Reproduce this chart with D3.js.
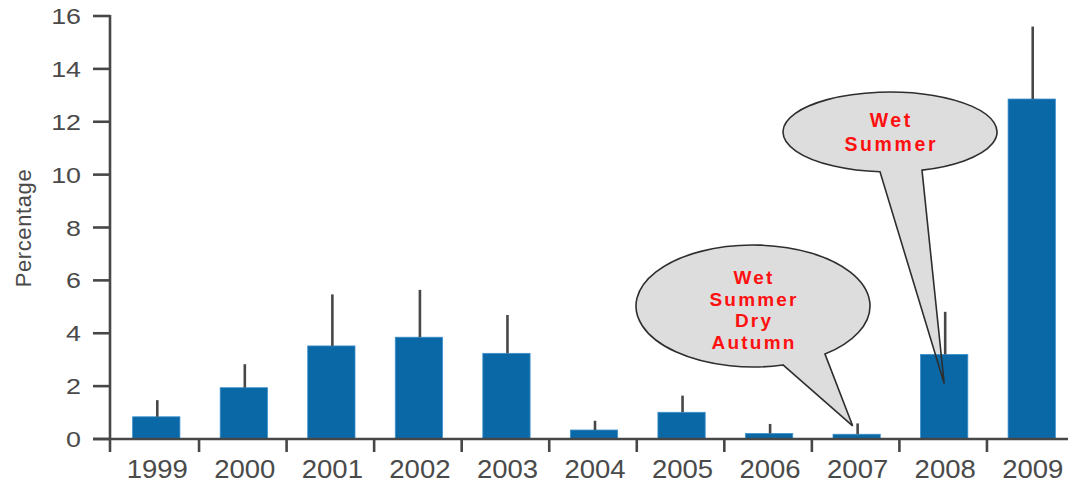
<!DOCTYPE html>
<html>
<head>
<meta charset="utf-8">
<script src="https://cdn.jsdelivr.net/npm/d3@7"></script>
<style>
  html, body { margin: 0; padding: 0; background: #fff; }
  svg { display: block; }
  text { font-family: "Liberation Sans", Arial, sans-serif; }
</style>
</head>
<body>
<script>
// Years on the horizontal axis
const years = ["1999", "2000", "2001", "2002", "2003", "2004", "2005", "2006", "2007", "2008", "2009"];
// Mean percentage for each year
const values = [0.84, 1.94, 3.52, 3.85, 3.24, 0.34, 1.01, 0.21, 0.18, 3.20, 12.86];
// Upper error bar length for each year
const errors = [0.63, 0.89, 1.95, 1.79, 1.45, 0.35, 0.63, 0.36, 0.41, 1.61, 2.74];
// Vertical axis ticks
const yTicks = [0, 2, 4, 6, 8, 10, 12, 14, 16];
// Speech-bubble notes
const noteYears = ["2007", "2008"];
const noteLines = [["Wet", "Summer", "Dry", "Autumn"], ["Wet", "Summer"]];

const W = 1068, H = 485;
const axisColor = "#474747";
const barColor = "#0a68a7";

const svg = d3.select("body").append("svg")
  .attr("width", W).attr("height", H);

const x = d3.scaleBand().domain(years).range([111.5, 1074.5]).padding(0);
const y = d3.scaleLinear().domain([0, 16]).range([439, 16]);
const barW = x.step() * 0.54;

// ----- callout geometry (ellipse + tail pointing at a bar) -----
const notes = [
  { year: noteYears[0], lines: noteLines[0], cx: 753, cy: 306, rx: 117, ry: 61,
    baseA: 783, baseB: 825, tipDx: -3, tipVal: 0.5, lineH: 21.7, firstBase: 284, size: 19, spacing: 2.2 },
  { year: noteYears[1], lines: noteLines[1], cx: 890, cy: 132, rx: 107, ry: 40,
    baseA: 880, baseB: 922, tipDx: 1, tipVal: 2.1, lineH: 24, firstBase: 127, size: 19.5, spacing: 2.6 }
];

function bubblePath(n) {
  const py = px => n.cy + n.ry * Math.sqrt(Math.max(0, 1 - ((px - n.cx) / n.rx) ** 2));
  const tipX = x(n.year) + x.bandwidth() / 2 + n.tipDx;
  const tipY = y(n.tipVal);
  return `M${n.baseA},${py(n.baseA)} A${n.rx},${n.ry} 0 1 1 ${n.baseB},${py(n.baseB)} L${tipX},${tipY} Z`;
}

// bubble fills sit beneath the bars
svg.append("g").selectAll("path").data(notes).join("path")
  .attr("d", bubblePath)
  .attr("fill", "#dddddd")
  .attr("stroke", "none");

// ----- bars -----
svg.append("g").selectAll("rect").data(years).join("rect")
  .attr("x", d => x(d) + x.bandwidth() / 2 - barW / 2 + 1)
  .attr("width", barW)
  .attr("y", (d, i) => y(values[i]))
  .attr("height", (d, i) => y(0) - y(values[i]))
  .attr("fill", barColor)
  .attr("stroke", "#3d90cc")
  .attr("stroke-width", 0.8);

// ----- error bars (upper only) -----
svg.append("g").selectAll("line").data(years).join("line")
  .attr("x1", d => x(d) + x.bandwidth() / 2 + 2)
  .attr("x2", d => x(d) + x.bandwidth() / 2 + 2)
  .attr("y1", (d, i) => y(values[i]))
  .attr("y2", (d, i) => y(values[i] + errors[i]))
  .attr("stroke", axisColor)
  .attr("stroke-width", 2.6);

// ----- axes -----
const yAxis = svg.append("g");
yAxis.append("line")
  .attr("x1", 110).attr("x2", 110)
  .attr("y1", y(16) - 1).attr("y2", 452)
  .attr("stroke", axisColor).attr("stroke-width", 2.6);
yAxis.selectAll("line.tick").data(yTicks).join("line")
  .attr("class", "tick")
  .attr("x1", 93).attr("x2", 110)
  .attr("y1", d => y(d)).attr("y2", d => y(d))
  .attr("stroke", axisColor).attr("stroke-width", 2.6);
yAxis.selectAll("g.lbl").data(yTicks).join("g")
  .attr("class", "lbl")
  .attr("transform", d => `translate(81,${y(d) + 8}) scale(1.22,1)`)
  .append("text")
  .attr("text-anchor", "end")
  .attr("font-size", 22)
  .attr("fill", "#4a4a4a")
  .text(d => d);

svg.append("text")
  .attr("transform", `translate(31,228) rotate(-90)`)
  .attr("text-anchor", "middle")
  .attr("font-size", 22)
  .attr("letter-spacing", 0.6)
  .attr("fill", "#4a4a4a")
  .text("Percentage");

const xAxis = svg.append("g");
xAxis.append("line")
  .attr("x1", 93).attr("x2", W)
  .attr("y1", y(0)).attr("y2", y(0))
  .attr("stroke", axisColor).attr("stroke-width", 2.6);
xAxis.selectAll("line.tick").data(years.slice(1)).join("line")
  .attr("class", "tick")
  .attr("x1", d => x(d)).attr("x2", d => x(d))
  .attr("y1", y(0)).attr("y2", 452)
  .attr("stroke", axisColor).attr("stroke-width", 2.6);
xAxis.selectAll("g.lbl").data(years).join("g")
  .attr("class", "lbl")
  .attr("transform", d => `translate(${x(d) + x.bandwidth() / 2 + 2},478) scale(1.1,1)`)
  .append("text")
  .attr("text-anchor", "middle")
  .attr("font-size", 25)
  .attr("fill", "#4a4a4a")
  .text(d => d);

// ----- bubble outlines and text on top -----
svg.append("g").selectAll("path").data(notes).join("path")
  .attr("d", bubblePath)
  .attr("fill", "none")
  .attr("stroke", "#2e2e2e")
  .attr("stroke-width", 1.6)
  .attr("stroke-linejoin", "miter");

notes.forEach(n => {
  n.lines.forEach((ln, i) => {
    svg.append("text")
      .attr("x", n.cx + n.spacing / 2)
      .attr("y", n.firstBase + i * n.lineH)
      .attr("text-anchor", "middle")
      .attr("font-size", n.size)
      .attr("font-weight", "bold")
      .attr("letter-spacing", n.spacing)
      .attr("fill", "#ff1010")
      .text(ln);
  });
});
</script>
</body>
</html>
